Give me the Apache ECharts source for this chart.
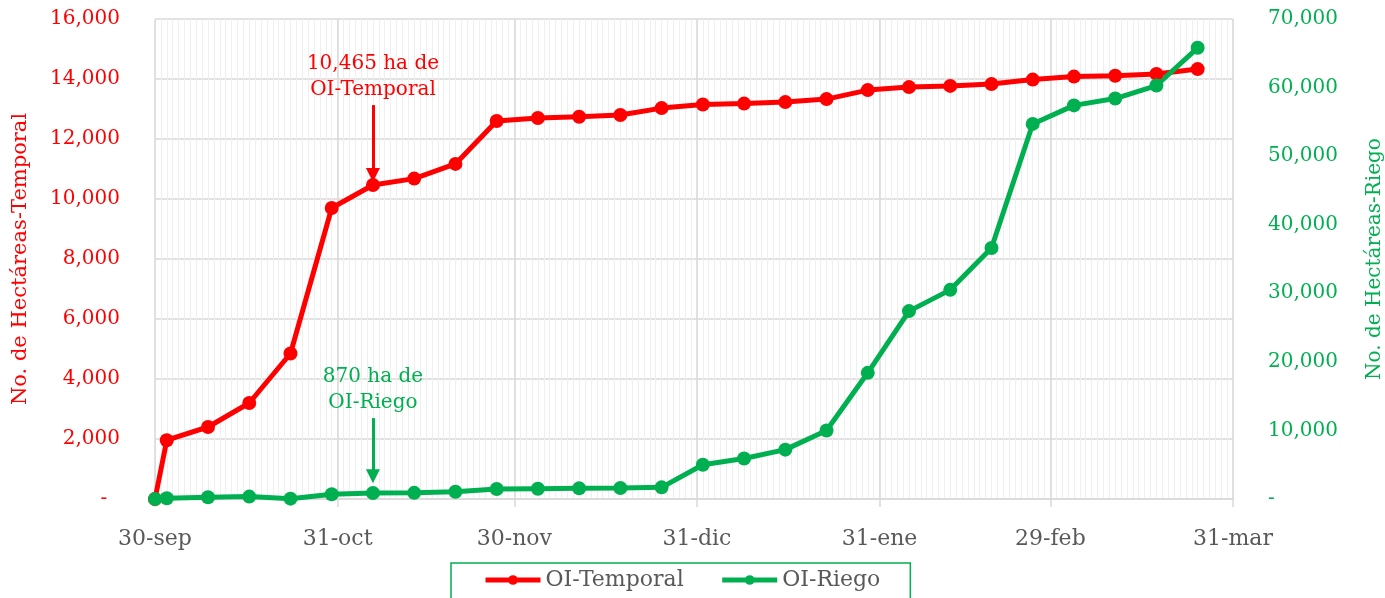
<!DOCTYPE html>
<html>
<head>
<meta charset="utf-8">
<script src="https://cdn.jsdelivr.net/npm/echarts@6/dist/echarts.min.js"></script>
<style>
  html, body { margin: 0; padding: 0; background: #fff; }
  #chart { width: 1385px; height: 598px; }
</style>
</head>
<body>
<div id="chart"></div>
<script>
const monthNames = ['ene', 'feb', 'mar', 'abr', 'may', 'jun', 'jul', 'ago', 'sep', 'oct', 'nov', 'dic'];
const monthTicks = ['30-sep', '31-oct', '30-nov', '31-dic', '31-ene', '29-feb', '31-mar'];
const dates = ['30-sep', '2-oct', '9-oct', '16-oct', '23-oct', '30-oct', '6-nov', '13-nov', '20-nov', '27-nov',
  '4-dic', '11-dic', '18-dic', '25-dic', '1-ene', '8-ene', '15-ene', '22-ene', '29-ene', '5-feb',
  '12-feb', '19-feb', '26-feb', '4-mar', '11-mar', '18-mar', '25-mar'];
const temporal = [0, 1960, 2400, 3200, 4850, 9700, 10465, 10680, 11170, 12600,
  12700, 12740, 12800, 13030, 13150, 13180, 13230, 13330, 13630, 13730,
  13770, 13830, 13980, 14080, 14110, 14170, 14330];
const riego = [0, 100, 250, 350, 50, 700, 870, 900, 1050, 1450,
  1500, 1550, 1600, 1700, 5000, 5900, 7200, 10000, 18400, 27400,
  30500, 36600, 54700, 57400, 58400, 60300, 65800];
const tempNote = '10,465 ha de\nOI-Temporal';
const riegoNote = '870 ha de\nOI-Riego';

const RED = '#ff0000';
const GREEN = '#00b050';
const FONT = 'DejaVu Serif';

// one category per day, 30-sep-2023 .. 31-mar-2024
const days = [];
for (let t = Date.UTC(2023, 8, 30); t <= Date.UTC(2024, 2, 31); t += 86400000) {
  const d = new Date(t);
  days.push(d.getUTCDate() + '-' + monthNames[d.getUTCMonth()]);
}
const isMonthEnd = (i, v) => monthTicks.includes(v);

const chart = echarts.init(document.getElementById('chart'));
chart.setOption({
  animation: false,
  textStyle: { fontFamily: FONT },
  grid: { left: 155, right: 152, top: 19, bottom: 99, containLabel: false, outerBoundsMode: 'none' },
  legend: {
    data: ['OI-Temporal', 'OI-Riego'],
    left: 451,
    top: 563,
    borderColor: GREEN,
    borderWidth: 1.5,
    padding: [6, 30, 10, 32],
    itemGap: 36,
    itemWidth: 55,
    itemHeight: 12,
    lineStyle: { width: 5 },
    textStyle: { color: '#595959', fontSize: 22, fontFamily: FONT }
  },
  xAxis: [
    {
      // daily minor lines
      type: 'category',
      data: days,
      boundaryGap: false,
      axisLine: { show: false },
      axisTick: { show: false },
      axisLabel: { show: false },
      splitLine: { show: true, interval: 0, lineStyle: { color: '#efefef', width: 1 } }
    },
    {
      type: 'category',
      data: days,
      boundaryGap: false,
      position: 'bottom',
      axisLine: { lineStyle: { color: '#d9d9d9', width: 1.5 } },
      axisTick: { interval: isMonthEnd, length: 8, lineStyle: { color: '#d9d9d9', width: 1.5 } },
      axisLabel: { interval: isMonthEnd, color: '#595959', fontSize: 22, margin: 29, fontFamily: FONT },
      splitLine: { show: true, interval: isMonthEnd, lineStyle: { color: '#d9d9d9', width: 1.5 } }
    }
  ],
  yAxis: [
    {
      type: 'value',
      min: 0,
      max: 16000,
      interval: 2000,
      name: 'No. de Hectáreas-Temporal',
      nameLocation: 'middle',
      nameGap: 124,
      nameRotate: 90,
      nameTextStyle: { color: RED, fontSize: 21, fontFamily: FONT },
      axisLine: { show: false },
      axisTick: { show: false },
      axisLabel: { color: RED, fontSize: 20, margin: 35, formatter: (v) => (v === 0 ? '-  ' : v.toLocaleString('en-US')), fontFamily: FONT },
      splitLine: { lineStyle: { color: '#d9d9d9', width: 1.5 } }
    },
    {
      type: 'value',
      position: 'right',
      min: 0,
      max: 70000,
      interval: 10000,
      name: 'No. de Hectáreas-Riego',
      nameLocation: 'middle',
      nameGap: 132,
      nameRotate: 90,
      nameTextStyle: { color: GREEN, fontSize: 20, fontFamily: FONT },
      axisLine: { show: false },
      axisTick: { show: false },
      axisLabel: { color: GREEN, fontSize: 20, margin: 35, formatter: (v) => (v === 0 ? '-' : v.toLocaleString('en-US')), fontFamily: FONT },
      splitLine: { show: false }
    }
  ],
  series: [
    {
      name: 'OI-Temporal',
      type: 'line',
      xAxisIndex: 0,
      yAxisIndex: 0,
      data: dates.map((d, i) => [d, temporal[i]]),
      symbol: 'circle',
      symbolSize: 14,
      showAllSymbol: true,
      lineStyle: { color: RED, width: 5 },
      itemStyle: { color: RED },
      markPoint: {
        silent: true,
        symbol: 'circle',
        symbolSize: 1,
        itemStyle: { color: 'rgba(0,0,0,0)' },
        data: [{
          coord: ['6-nov', 13130],
          label: { show: true, position: 'top', distance: 2, formatter: tempNote, color: RED, fontSize: 20, lineHeight: 26, fontFamily: FONT }
        }]
      },
      markLine: {
        silent: true,
        symbol: ['none', 'triangle'],
        symbolSize: [14, 14],
        label: { show: false },
        lineStyle: { color: RED, width: 3, type: 'solid' },
        data: [[{ coord: ['6-nov', 13130] }, { coord: ['6-nov', 10800] }]]
      }
    },
    {
      name: 'OI-Riego',
      type: 'line',
      xAxisIndex: 0,
      yAxisIndex: 1,
      data: dates.map((d, i) => [d, riego[i]]),
      symbol: 'circle',
      symbolSize: 14,
      showAllSymbol: true,
      lineStyle: { color: GREEN, width: 5 },
      itemStyle: { color: GREEN },
      markPoint: {
        silent: true,
        symbol: 'circle',
        symbolSize: 1,
        itemStyle: { color: 'rgba(0,0,0,0)' },
        data: [{
          coord: ['6-nov', 11800],
          label: { show: true, position: 'top', distance: 2, formatter: riegoNote, color: GREEN, fontSize: 20, lineHeight: 26, fontFamily: FONT }
        }]
      },
      markLine: {
        silent: true,
        symbol: ['none', 'triangle'],
        symbolSize: [14, 14],
        label: { show: false },
        lineStyle: { color: GREEN, width: 3, type: 'solid' },
        data: [[{ coord: ['6-nov', 11800] }, { coord: ['6-nov', 3300] }]]
      }
    }
  ]
});
</script>
</body>
</html>
